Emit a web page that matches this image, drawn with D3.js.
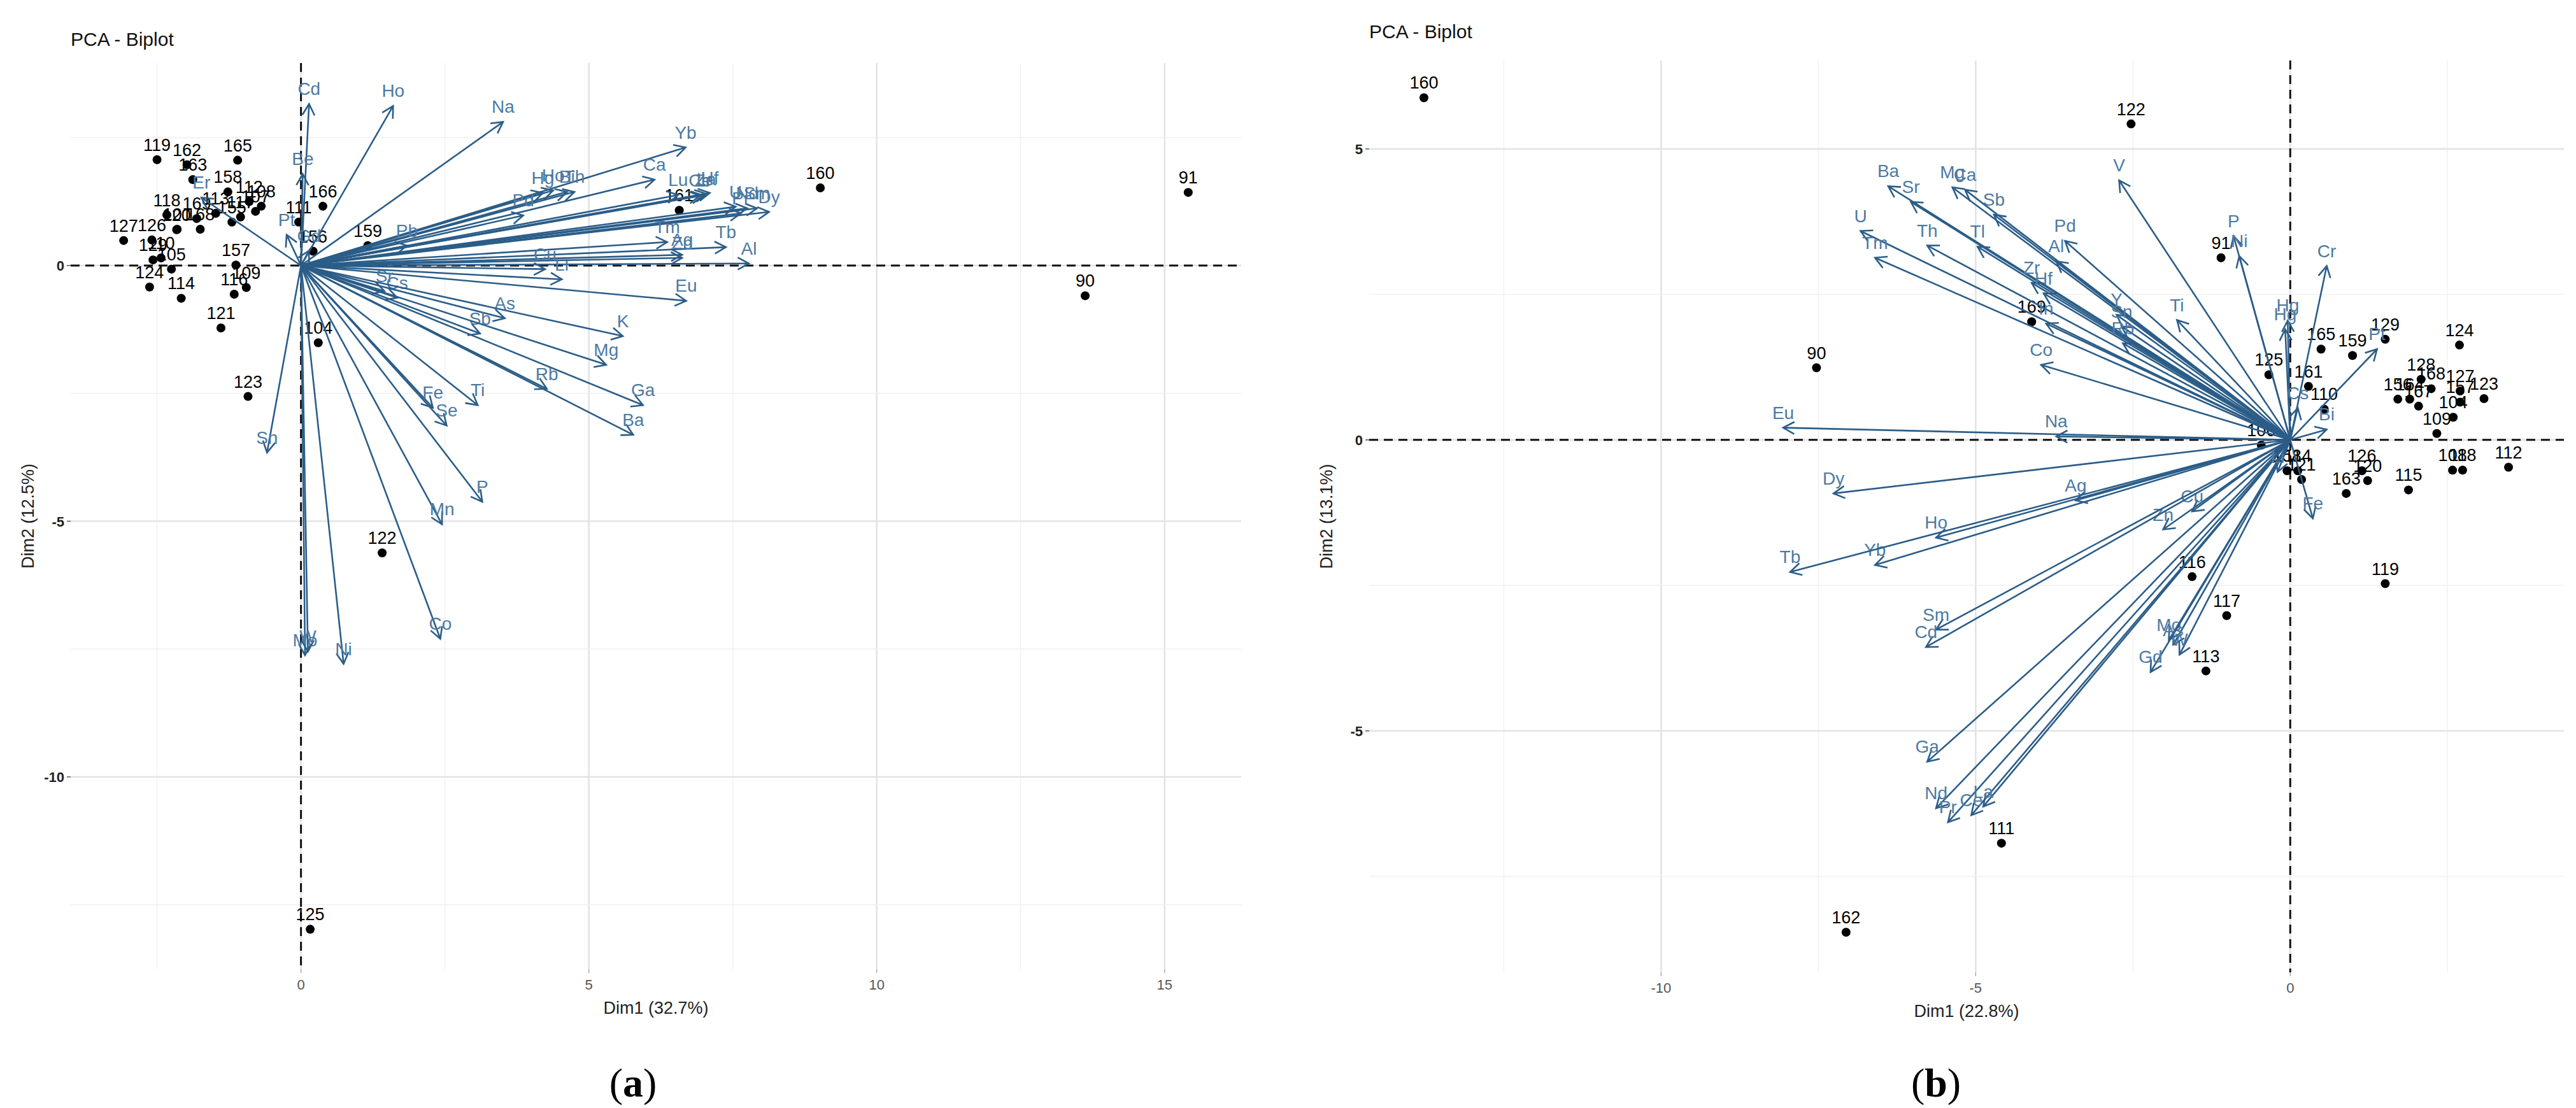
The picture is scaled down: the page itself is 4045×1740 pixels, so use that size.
<!DOCTYPE html>
<html><head><meta charset="utf-8">
<script src="https://cdn.jsdelivr.net/npm/d3@7"></script>
<style>body{margin:0;background:#fff}</style></head>
<body><svg id="c" width="4045" height="1740"></svg>
<script>
// ---------- Panel (a) data ----------
const ptsA_names = ["119","162","165","163","158","112","108","107","166","111","118","169","113","155","101","168","127","126","120","129","105","157","156","159","124","114","116","109","121","104","123","122","125","160","161","91","90","117","110"];
const ptsA_x = [-2.50,-1.98,-1.10,-1.88,-1.27,-0.90,-0.69,-0.79,0.38,-0.04,-2.33,-1.81,-1.48,-1.20,-2.15,-1.75,-3.08,-2.59,-2.16,-2.57,-2.25,-1.13,0.21,1.16,-2.63,-2.08,-1.16,-0.95,-1.39,0.30,-0.92,1.41,0.16,9.02,6.57,15.41,13.62,-1.05,-2.43];
const ptsA_y = [2.07,1.97,2.06,1.68,1.44,1.25,1.16,1.06,1.16,0.85,0.99,0.92,1.02,0.85,0.71,0.71,0.49,0.50,0.70,0.11,-0.07,0.01,0.28,0.39,-0.42,-0.64,-0.56,-0.43,-1.22,-1.51,-2.56,-5.62,-12.98,1.52,1.08,1.43,-0.59,0.95,0.15];
const varsA_names = ["Cd","Ho","Na","Be","Er","Pt","Gd","Yb","Ca","La","Ce","Hf","Zr","U","Nd","Sm","Pr","Lu","Dy","Tb","Al","Tm","Ag","Zn","Cu","Li","Eu","Hg","Ho2","Bi","Th","Pd","Pb","Sr","Cs","As","Sb","K","Mg","Rb","Ga","Ba","Fe","Ti","Se","P","Mn","Co","Ni","Mo","W","Sn"];
const varsA_x = [0.14,1.60,3.51,0.03,-1.73,-0.25,0.14,6.68,6.14,7.04,6.93,7.10,6.98,7.55,7.75,7.92,7.64,6.55,8.13,7.38,7.78,6.36,6.62,6.62,4.24,4.53,6.69,4.20,4.38,4.62,4.75,3.86,1.84,1.45,1.67,3.54,3.11,5.59,5.30,4.27,5.94,5.77,2.29,3.07,2.53,3.15,2.45,2.42,0.74,0.07,0.12,-0.59];
const varsA_y = [3.16,3.12,2.81,1.79,1.33,0.60,0.29,2.31,1.68,1.40,1.37,1.42,1.37,1.15,1.12,1.12,1.02,1.38,1.05,0.36,0.04,0.46,0.21,0.15,-0.07,-0.27,-0.69,1.42,1.47,1.44,1.44,0.98,0.39,-0.50,-0.63,-1.03,-1.33,-1.38,-1.94,-2.41,-2.73,-3.31,-2.78,-2.73,-3.13,-4.62,-5.06,-7.30,-7.79,-7.62,-7.55,-3.66];
// ---------- Panel (b) data ----------
const ptsB_names = ["160","122","91","169","90","125","165","159","129","124","128","168","127","123","157","156","167","164","104","109","161","110","106","158","114","121","126","120","163","115","108","118","112","119","116","117","113","111","162"];
const ptsB_x = [-13.77,-2.53,-1.10,-4.11,-7.53,-0.34,0.49,0.99,1.51,2.69,2.08,2.24,2.70,3.08,2.70,1.71,2.04,1.90,2.59,2.33,0.29,0.54,-0.46,-0.05,0.12,0.18,1.14,1.23,0.89,1.88,2.58,2.74,3.47,1.51,-1.56,-1.01,-1.34,-4.59,-7.06];
const ptsB_y = [5.88,5.43,3.13,2.03,1.24,1.12,1.56,1.45,1.73,1.63,1.04,0.88,0.84,0.71,0.65,0.70,0.58,0.70,0.39,0.11,0.92,0.53,-0.09,-0.53,-0.53,-0.68,-0.53,-0.70,-0.92,-0.86,-0.52,-0.52,-0.47,-2.47,-2.35,-3.02,-3.97,-6.93,-8.46];
const varsB_names = ["Ba","Sr","Mg","Ca","Sb","U","Tm","Th","Tl","Pd","Al","V","P","Ni","Cr","Zr","Hf","Y","Ti","Hg2","Hg","In","Sn","Co","Rb","Cs","Pt","Bi","Eu","Na","Dy","Ag","Ho","Yb","Tb","Zn","Cu","Fe","Sm","Cd","Mo","As","W","Gd","Ga","Nd","Pr","Ce","La","Li"];
const varsB_x = [-6.39,-6.03,-5.37,-5.17,-4.71,-6.83,-6.60,-5.77,-4.97,-3.58,-3.72,-2.72,-0.90,-0.81,0.58,-4.11,-3.92,-2.76,-1.80,-0.04,-0.08,-3.88,-2.68,-3.96,-2.66,0.12,1.38,0.58,-8.06,-3.72,-7.26,-3.41,-5.63,-6.60,-7.95,-2.02,-1.56,0.36,-5.63,-5.79,-1.93,-1.86,-1.76,-2.22,-5.77,-5.63,-5.44,-5.07,-4.88,-0.20];
const varsB_y = [4.36,4.09,4.34,4.30,3.87,3.59,3.13,3.34,3.32,3.42,3.07,4.46,3.50,3.16,2.99,2.70,2.52,2.15,2.06,2.05,1.90,2.00,1.95,1.29,1.66,0.55,1.56,0.18,0.21,0.06,-0.92,-1.04,-1.68,-2.15,-2.27,-1.54,-1.23,-1.35,-3.26,-3.56,-3.44,-3.52,-3.69,-3.99,-5.53,-6.33,-6.57,-6.45,-6.30,-0.55];

const svg = d3.select("#c");
const ARROW="#2b5d88", LAB="#4d7aa3";

function panel(cfg){
  const g = svg.append("g");
  const x = d3.scaleLinear().domain(cfg.xd).range([cfg.x0,cfg.x1]);
  const y = d3.scaleLinear().domain(cfg.yd).range([cfg.y1,cfg.y0]);
  // grid
  const minorX = d3.range(Math.ceil(cfg.xd[0]/2.5)*2.5, cfg.xd[1], 2.5);
  const minorY = d3.range(Math.ceil(cfg.yd[0]/2.5)*2.5, cfg.yd[1], 2.5);
  minorX.forEach(v=>{const maj=Math.abs(v%5)<1e-9; g.append("line").attr("x1",x(v)).attr("x2",x(v)).attr("y1",cfg.y0).attr("y2",cfg.y1).attr("stroke",maj?"#e3e3e3":"#f0f0f0").attr("stroke-width",maj?2.6:1.4);});
  minorY.forEach(v=>{const maj=Math.abs(v%5)<1e-9; g.append("line").attr("y1",y(v)).attr("y2",y(v)).attr("x1",cfg.x0).attr("x2",cfg.x1).attr("stroke",maj?"#e3e3e3":"#f0f0f0").attr("stroke-width",maj?2.6:1.4);});
  // axes ticks
  const xt = cfg.xticks, yt = cfg.yticks;
  xt.forEach(v=>{g.append("text").attr("x",x(v)).attr("y",cfg.y1+32).attr("text-anchor","middle").attr("font-family","Liberation Sans, Arial").attr("font-size",22).attr("fill","#555").text(String(v).replace("-","-"));
    g.append("line").attr("x1",x(v)).attr("x2",x(v)).attr("y1",cfg.y1).attr("y2",cfg.y1+6).attr("stroke","#aaa").attr("stroke-width",1.5);});
  yt.forEach(v=>{g.append("text").attr("x",cfg.x0-10).attr("y",y(v)+8).attr("text-anchor","end").attr("font-family","Liberation Sans, Arial").attr("font-size",22).attr("font-weight","bold").attr("fill","#222").text(v);
    g.append("line").attr("x1",cfg.x0-6).attr("x2",cfg.x0).attr("y1",y(v)).attr("y2",y(v)).attr("stroke","#555").attr("stroke-width",1.5);});
  // dashed zero lines
  g.append("line").attr("x1",cfg.x0).attr("x2",cfg.x1).attr("y1",y(0)).attr("y2",y(0)).attr("stroke","#111").attr("stroke-width",3).attr("stroke-dasharray","14,9");
  g.append("line").attr("x1",x(0)).attr("x2",x(0)).attr("y1",cfg.y0).attr("y2",cfg.y1).attr("stroke","#111").attr("stroke-width",3).attr("stroke-dasharray","14,9");
  // points
  cfg.pn.forEach((n,i)=>{
    g.append("circle").attr("cx",x(cfg.px[i])).attr("cy",y(cfg.py[i])).attr("r",7).attr("fill","#000");
    g.append("text").attr("x",x(cfg.px[i])).attr("y",y(cfg.py[i])-14).attr("text-anchor","middle").attr("font-family","Liberation Sans, Arial").attr("font-size",27).attr("fill","#000").text(n);
  });
  // arrows
  cfg.vn.forEach((n,i)=>{
    const X1=x(cfg.vx[i]),Y1=y(cfg.vy[i]),X0=x(0),Y0=y(0);
    const a=Math.atan2(Y1-Y0,X1-X0), L=20, sp=0.5;
    g.append("line").attr("x1",X0).attr("y1",Y0).attr("x2",X1).attr("y2",Y1).attr("stroke",ARROW).attr("stroke-width",2.6);
    g.append("path").attr("d",`M${X1-L*Math.cos(a-sp)},${Y1-L*Math.sin(a-sp)}L${X1},${Y1}L${X1-L*Math.cos(a+sp)},${Y1-L*Math.sin(a+sp)}`).attr("fill","none").attr("stroke",ARROW).attr("stroke-width",2.6);
    g.append("text").attr("x",X1).attr("y",Y1-14).attr("text-anchor","middle").attr("font-family","Liberation Sans, Arial").attr("font-size",28).attr("fill",LAB).text(n.replace("2",""));
  });
  // titles
  g.append("text").attr("x",cfg.x0).attr("y",cfg.titleY).attr("font-family","Liberation Sans, Arial").attr("font-size",30).attr("fill","#111").text("PCA - Biplot");
  g.append("text").attr("x",(cfg.x0+cfg.x1)/2).attr("y",cfg.y1+70).attr("text-anchor","middle").attr("font-family","Liberation Sans, Arial").attr("font-size",27).attr("fill","#222").text(cfg.xl);
  g.append("text").attr("transform",`translate(${cfg.x0-58},${(cfg.y0+cfg.y1)/2}) rotate(-90)`).attr("text-anchor","middle").attr("font-family","Liberation Sans, Arial").attr("font-size",27).attr("fill","#222").text(cfg.yl);
  g.append("text").attr("x",cfg.lx).attr("y",1722).attr("text-anchor","middle").attr("font-family","Liberation Serif, Times New Roman, serif").attr("font-size",64).attr("fill","#000").html(`(<tspan font-weight="bold">${cfg.tag}</tspan>)`);
}

panel({x0:111,x1:1949,y0:99,y1:1522,xd:[-4.0,16.33],yd:[-13.76,3.96],xticks:[0,5,10,15],yticks:[0,-5,-10],
  pn:ptsA_names,px:ptsA_x,py:ptsA_y,vn:varsA_names,vx:varsA_x,vy:varsA_y,titleY:72,xl:"Dim1 (32.7%)",yl:"Dim2 (12.5%)",tag:"a",lx:994});
panel({x0:2150,x1:4026,y0:95,y1:1527,xd:[-14.64,4.35],yd:[-9.15,6.52],xticks:[-10,-5,0],yticks:[5,0,-5],
  pn:ptsB_names,px:ptsB_x,py:ptsB_y,vn:varsB_names,vx:varsB_x,vy:varsB_y,titleY:60,xl:"Dim1 (22.8%)",yl:"Dim2 (13.1%)",tag:"b",lx:3040});
</script></body></html>
